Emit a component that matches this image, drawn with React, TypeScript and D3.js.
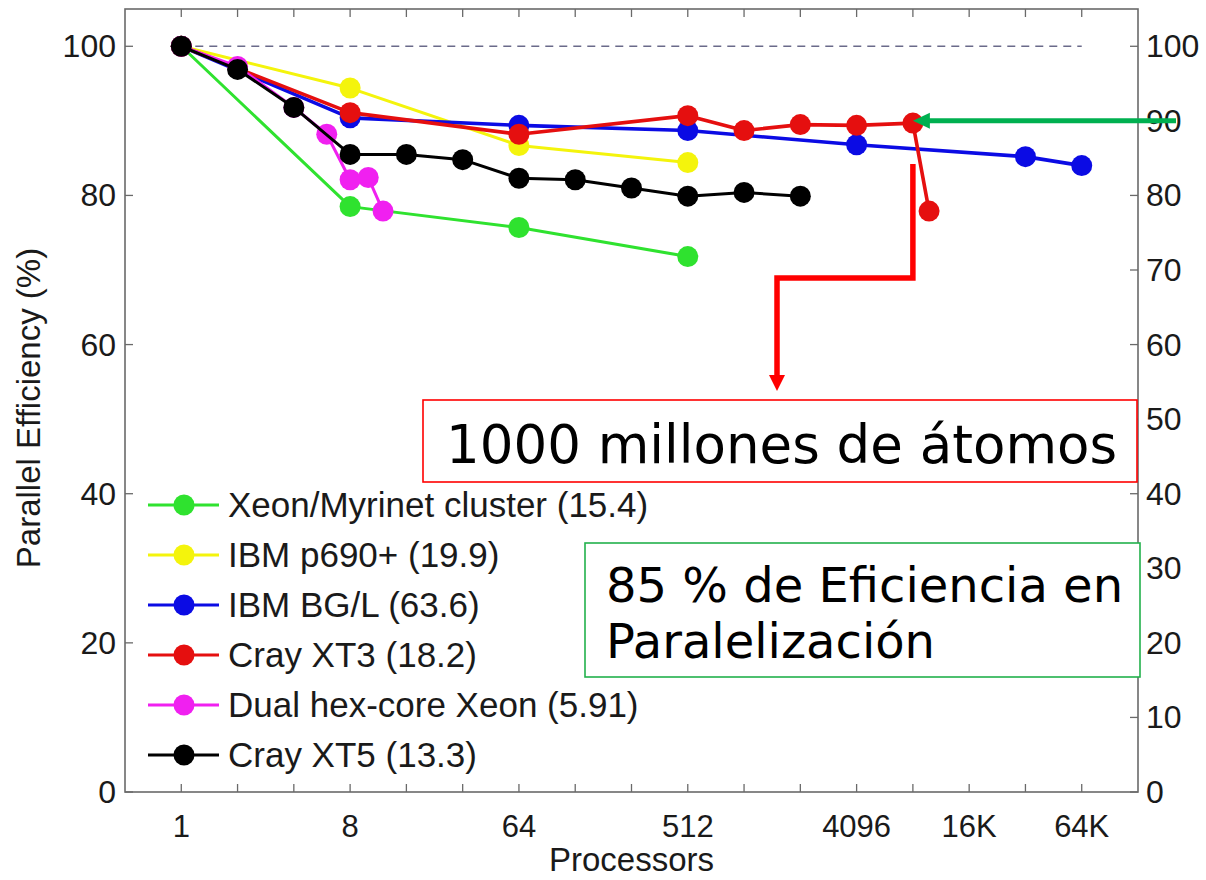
import React from "react";
import * as d3 from "d3";

// ---- data ----
const seriesNames = [
  "Xeon/Myrinet cluster (15.4)",
  "IBM p690+ (19.9)",
  "IBM BG/L (63.6)",
  "Cray XT3 (18.2)",
  "Dual hex-core Xeon (5.91)",
  "Cray XT5 (13.3)",
];
const seriesColors = ["#2fe22f", "#f4f40c", "#0b0be4", "#e50f0f", "#f020f0", "#000000"];

const xeonProcs = [1, 8, 64, 512];
const xeonEff = [100, 78.5, 75.7, 71.8];

const p690Procs = [1, 8, 64, 512];
const p690Eff = [100, 94.4, 86.7, 84.4];

const bglProcs = [1, 8, 64, 512, 4096, 32768, 65536];
const bglEff = [100, 90.4, 89.4, 88.7, 86.8, 85.2, 84.0];

const xt3Procs = [1, 8, 64, 512, 1024, 2048, 4096, 8192, 10000];
const xt3Eff = [100, 91.1, 88.2, 90.7, 88.7, 89.5, 89.4, 89.7, 77.9];

const hexProcs = [1, 2, 4, 6, 8, 10, 12];
const hexEff = [100, 97.3, 91.8, 88.2, 82.1, 82.4, 77.9];

const xt5Procs = [1, 2, 4, 8, 16, 32, 64, 128, 256, 512, 1024, 2048];
const xt5Eff = [100, 96.9, 91.8, 85.5, 85.5, 84.8, 82.3, 82.1, 81.0, 79.9, 80.4, 79.9];

const xTickValues = [1, 2, 4, 8, 16, 32, 64, 128, 256, 512, 1024, 2048, 4096, 8192, 16384, 32768, 65536];
const xLabelValues = [1, 8, 64, 512, 4096, 16384, 65536];
const xLabelTexts = ["1", "8", "64", "512", "4096", "16K", "64K"];
const leftTicks = [0, 20, 40, 60, 80, 100];
const rightTicks = [0, 10, 20, 30, 40, 50, 60, 70, 80, 90, 100];
const idealEff = 100;

const annotationRed = "1000 millones de átomos";
const annotationGreenLines = ["85 % de Eficiencia en", "Paralelización"];

export default function App() {
  const W = 1206, H = 880;
  const left = 125, right = 1138, top = 9, bottom = 792;
  const x = d3.scaleLog().base(2).domain([0.5, 131072]).range([left, right]);
  const y = d3.scaleLinear().domain([0, 105]).range([bottom, top]);

  const allSeries = [
    { p: xeonProcs, e: xeonEff, w: 3 },
    { p: p690Procs, e: p690Eff, w: 3 },
    { p: bglProcs, e: bglEff, w: 3.6 },
    { p: xt3Procs, e: xt3Eff, w: 3.6 },
    { p: hexProcs, e: hexEff, w: 3 },
    { p: xt5Procs, e: xt5Eff, w: 3 },
  ].map((s, i) => ({
    pts: s.p.map((v, j) => [v, s.e[j]] as [number, number]),
    color: seriesColors[i],
    name: seriesNames[i],
    w: s.w,
  }));

  const line = d3
    .line<[number, number]>()
    .x((d) => x(d[0]))
    .y((d) => y(d[1]));

  const axisColor = "#6a6a6a";
  const textColor = "#1a1a1a";
  const tickFont = "'Liberation Sans', Arial, Helvetica, sans-serif";
  const annFont = "'DejaVu Sans', Verdana, sans-serif";

  const R = 10.5;

  // annotation geometry (layout, anchored to the XT3 8192 point)
  const tipX = x(8192);
  const greenY = y(90);
  const redTopY = y(84.2);
  const redElbowY = 278;
  const redDownX = 777;
  const redTipY = 391;

  return (
    <svg
      width={W}
      height={H}
      style={{ position: "absolute", left: 0, top: 0, background: "#fff" }}
      fontFamily={tickFont}
    >
      <rect x={0} y={0} width={W} height={H} fill="#fff" />
      {/* frame */}
      <rect x={left} y={top} width={right - left} height={bottom - top} fill="none" stroke={axisColor} strokeWidth={1.6} />

      {/* x ticks */}
      {xTickValues.map((v) => (
        <g key={"xt" + v}>
          <line x1={x(v)} x2={x(v)} y1={bottom} y2={bottom - 8} stroke={axisColor} strokeWidth={1.3} />
          <line x1={x(v)} x2={x(v)} y1={top} y2={top + 8} stroke={axisColor} strokeWidth={1.3} />
        </g>
      ))}
      {xLabelValues.map((v, i) => (
        <text key={"xl" + v} x={x(v)} y={837} textAnchor="middle" fontSize={31} fill={textColor}>
          {xLabelTexts[i]}
        </text>
      ))}
      <text x={(left + right) / 2} y={871} textAnchor="middle" fontSize={33} fill={textColor}>
        Processors
      </text>

      {/* left ticks */}
      {leftTicks.map((v) => (
        <g key={"yl" + v}>
          <line x1={left} x2={left + 8} y1={y(v)} y2={y(v)} stroke={axisColor} strokeWidth={1.3} />
          <text x={116} y={y(v) + 11} textAnchor="end" fontSize={32} fill={textColor}>
            {v}
          </text>
        </g>
      ))}
      {/* right ticks */}
      {rightTicks.map((v) => (
        <g key={"yr" + v}>
          <line x1={right - 8} x2={right} y1={y(v)} y2={y(v)} stroke={axisColor} strokeWidth={1.3} />
          <text x={1146} y={y(v) + 11} textAnchor="start" fontSize={32} fill={textColor}>
            {v}
          </text>
        </g>
      ))}
      <text
        transform={`translate(40, ${408}) rotate(-90)`}
        textAnchor="middle"
        fontSize={33}
        fill={textColor}
      >
        Parallel Efficiency (%)
      </text>

      {/* ideal line */}
      <line
        x1={x(1)}
        x2={x(65536)}
        y1={y(idealEff)}
        y2={y(idealEff)}
        stroke="#6a6a8a"
        strokeWidth={1.4}
        strokeDasharray="8 6"
      />

      {/* series */}
      {allSeries.map((s, i) => (
        <g key={"s" + i}>
          <path d={line(s.pts) || ""} fill="none" stroke={s.color} strokeWidth={s.w} strokeLinejoin="round" />
          {s.pts.map((d, j) => (
            <circle key={j} cx={x(d[0])} cy={y(d[1])} r={R} fill={s.color} />
          ))}
        </g>
      ))}

      {/* legend */}
      {allSeries.map((s, i) => {
        const cy = 505 + i * 50;
        return (
          <g key={"lg" + i}>
            <line x1={148} x2={219} y1={cy} y2={cy} stroke={s.color} strokeWidth={3.2} />
            <circle cx={184} cy={cy} r={R} fill={s.color} />
            <text x={228} y={cy + 12} fontSize={35} fill={textColor}>
              {s.name}
            </text>
          </g>
        );
      })}

      {/* red annotation */}
      <path
        d={`M${tipX},${redTopY} V${redElbowY} H${redDownX} V${redTipY - 14}`}
        fill="none"
        stroke="#ff0000"
        strokeWidth={5.5}
        strokeLinejoin="miter"
      />
      <polygon
        points={`${redDownX - 8},${redTipY - 16} ${redDownX + 8},${redTipY - 16} ${redDownX},${redTipY}`}
        fill="#ff0000"
      />
      <rect x={423} y={400} width={714} height={82} fill="#fff" stroke="#ff0000" strokeWidth={1.6} />
      <text x={446} y={463} fontSize={53} fontFamily={annFont} fill="#000">
        {annotationRed}
      </text>

      {/* green annotation */}
      <rect x={585} y={543} width={555} height={134} fill="#fff" stroke="#22b14c" strokeWidth={1.6} />
      {annotationGreenLines.map((t, i) => (
        <text key={"gt" + i} x={606} y={602 + i * 56} fontSize={48} fontFamily={annFont} fill="#000">
          {t}
        </text>
      ))}
      <line x1={1176} x2={tipX + 14} y1={greenY} y2={greenY} stroke="#00b050" strokeWidth={5} />
      <polygon
        points={`${tipX},${greenY} ${tipX + 17},${greenY - 8} ${tipX + 17},${greenY + 8}`}
        fill="#00b050"
      />
    </svg>
  );
}
